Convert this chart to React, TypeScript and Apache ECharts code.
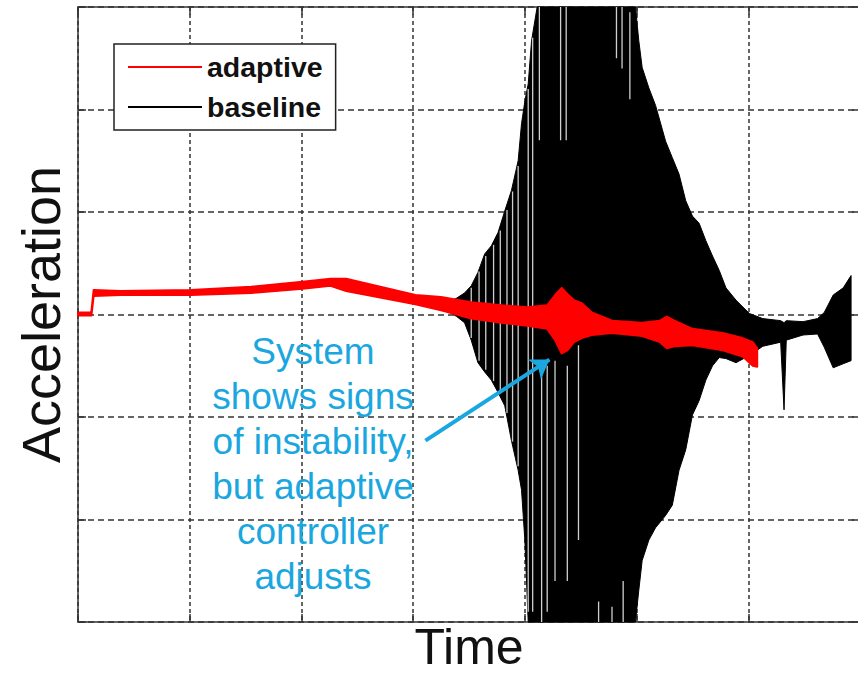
import React, { useEffect, useRef } from "react";
import * as echarts from "echarts";

// Axis ticks (no labels shown in the reference)
const xTicks = [0, 1, 2, 3, 4, 5, 6, 7];
const yTicks = [-3, -2, -1, 0, 1, 2, 3];

// adaptive controller trace: time, upper and lower extent of the (overlaid) red traces
const adaptiveT = [0, 0.11, 0.12, 0.14, 0.38, 1.01, 1.55, 2.01, 2.26, 2.4, 3.02, 3.25, 3.52, 3.79, 4.02, 4.2, 4.27, 4.33, 4.38, 4.44, 4.51, 4.6, 4.78, 5.05, 5.21, 5.27, 5.34, 5.5, 5.77, 5.95, 6.04, 6.08];
const adaptiveHi = [0.02, 0.02, 0.03, 0.24, 0.23, 0.24, 0.27, 0.32, 0.35, 0.35, 0.19, 0.17, 0.12, 0.09, 0.07, 0.09, 0.19, 0.26, 0.2, 0.14, 0.11, 0.02, -0.06, -0.08, -0.06, -0.02, -0.06, -0.14, -0.18, -0.23, -0.27, -0.33];
const adaptiveLo = [-0.01, -0.01, -0.01, 0.18, 0.19, 0.19, 0.21, 0.25, 0.28, 0.23, 0.1, 0.04, -0.04, -0.08, -0.11, -0.14, -0.25, -0.38, -0.35, -0.27, -0.23, -0.2, -0.18, -0.21, -0.27, -0.33, -0.31, -0.3, -0.35, -0.41, -0.5, -0.51];

// baseline trace: time, upper and lower envelope of the oscillation
const baselineT = [3.3, 3.39, 3.46, 3.52, 3.58, 3.64, 3.7, 3.76, 3.82, 3.88, 3.94, 3.97, 4.0, 4.03, 4.06, 4.11, 4.99, 5.02, 5.05, 5.11, 5.17, 5.26, 5.32, 5.38, 5.44, 5.5, 5.56, 5.62, 5.68, 5.74, 5.8, 5.89, 6.01, 6.13, 6.29, 6.32, 6.34, 6.49, 6.62, 6.68, 6.76, 6.85, 6.92];
const baselineHi = [0.11, 0.16, 0.21, 0.28, 0.41, 0.59, 0.67, 0.8, 1.01, 1.21, 1.5, 1.86, 2.08, 2.25, 2.67, 3.0, 3.0, 2.67, 2.41, 2.21, 2.04, 1.69, 1.53, 1.37, 1.11, 0.96, 0.89, 0.72, 0.57, 0.43, 0.26, 0.14, 0.01, -0.04, -0.06, -0.08, -0.06, -0.07, -0.04, 0.02, 0.19, 0.26, 0.38];
const baselineLo = [0.04, -0.02, -0.08, -0.25, -0.47, -0.56, -0.64, -0.76, -0.89, -1.23, -1.52, -1.71, -2.2, -3.0, -3.0, -3.0, -3.0, -2.69, -2.4, -2.2, -2.08, -1.96, -1.86, -1.52, -1.32, -0.98, -0.84, -0.64, -0.5, -0.42, -0.43, -0.47, -0.4, -0.31, -0.27, -0.93, -0.25, -0.2, -0.19, -0.32, -0.52, -0.48, -0.45];

// light gaps between the individual baseline oscillation strokes: time, top, bottom
const gapT = [3.52, 3.59, 3.65, 3.72, 3.78, 3.84, 3.89, 3.94, 4.03, 4.07, 4.13, 4.32, 4.37, 4.82, 4.87, 4.94, 4.15, 4.2, 4.27, 4.38, 4.48, 4.66, 4.78, 4.88];
const gapHi = [0.26, 0.42, 0.57, 0.68, 0.82, 1.02, 1.2, 1.45, 2.2, 2.7, 3.0, 3.0, 3.0, 3.0, 3.0, 2.95, -0.45, -0.5, -0.45, -0.5, -0.3, -2.8, -2.85, -2.6];
const gapLo = [-0.23, -0.45, -0.54, -0.65, -0.77, -0.96, -1.24, -1.48, -2.9, -2.9, 1.7, 1.7, 1.7, 2.5, 2.4, 2.1, -3.0, -2.9, -2.6, -2.6, -2.2, -3.0, -3.0, -3.0];

// annotation
const noteLines = ["System", "shows signs", "of instability,", "but adaptive", "controller", "adjusts"];
const arrowFrom = [3.11, -1.23];
const arrowTo = [4.22, -0.44];

const FONT = "'Liberation Sans', Arial, Helvetica, sans-serif";
const AXIS = "#333";
const NOTE = "#1aa7e0";

export default function App() {
  const ref = useRef<HTMLDivElement>(null);

  useEffect(() => {
    const chart = echarts.init(ref.current!, undefined, { renderer: "svg" });

    const bandRenderer = (ts: number[], hi: number[], lo: number[], color: string, lw: number) =>
      (params: any, api: any) => {
        if (params.dataIndex !== 0) return null;
        const top = ts.map((t, i) => api.coord([t, hi[i]]));
        const bot = ts.map((t, i) => api.coord([t, lo[i]])).reverse();
        return {
          type: "polygon",
          shape: { points: top.concat(bot) },
          style: { fill: color, stroke: color, lineWidth: lw, lineJoin: "round" },
          silent: true,
        };
      };

    const gapRenderer = (params: any, api: any) => {
      const t = api.value(0);
      const p1 = api.coord([t, api.value(1)]);
      const p2 = api.coord([t, api.value(2)]);
      return {
        type: "line",
        shape: { x1: p1[0], y1: p1[1], x2: p2[0], y2: p2[1] },
        style: { stroke: "#cfcfcf", lineWidth: 1.3 },
        silent: true,
      };
    };

    const axisCommon = {
      type: "value" as const,
      axisLine: { show: true, onZero: false, lineStyle: { color: AXIS, width: 1.5 } },
      axisTick: { show: true, inside: true, length: 8, lineStyle: { color: AXIS, width: 1.5 } },
      axisLabel: { show: false },
    };

    chart.setOption({
      animation: false,
      grid: { left: 78, top: 7, width: 782, bottom: 56, containLabel: false, outerBoundsMode: "none" },
      xAxis: [
        {
          ...axisCommon,
          min: xTicks[0],
          max: xTicks[xTicks.length - 1],
          interval: 1,
          position: "bottom",
          name: "Time",
          nameLocation: "middle",
          nameGap: 5,
          nameTextStyle: { fontSize: 50, lineHeight: 40, color: "#111", fontFamily: FONT },
          splitLine: { show: true, lineStyle: { color: AXIS, width: 1.5, type: [4, 3] } },
        },
        {
          ...axisCommon,
          min: xTicks[0],
          max: xTicks[xTicks.length - 1],
          interval: 1,
          position: "top",
          splitLine: { show: false },
        },
      ],
      yAxis: [
        {
          ...axisCommon,
          min: yTicks[0],
          max: yTicks[yTicks.length - 1],
          interval: 1,
          position: "left",
          name: "Acceleration",
          nameLocation: "middle",
          nameGap: 10,
          nameTextStyle: { fontSize: 54, color: "#111", fontFamily: FONT },
          splitLine: { show: true, lineStyle: { color: AXIS, width: 1.5, type: [6, 4] } },
        },
        {
          ...axisCommon,
          min: yTicks[0],
          max: yTicks[yTicks.length - 1],
          interval: 1,
          position: "right",
          splitLine: { show: false },
        },
      ],
      legend: {
        data: [
          { name: "adaptive", icon: "rect" },
          { name: "baseline", icon: "rect" },
        ],
        orient: "vertical",
        left: 114,
        top: 44,
        itemWidth: 74,
        itemHeight: 2,
        itemGap: 10,
        padding: [8, 13, 8, 14],
        borderColor: "#222",
        borderWidth: 1.5,
        borderRadius: 0,
        backgroundColor: "#fff",
        selectedMode: false,
        textStyle: { fontSize: 28.5, fontWeight: "bold", color: "#111", fontFamily: FONT, lineHeight: 30 },
      },
      series: [
        {
          name: "baseline",
          type: "custom",
          itemStyle: { color: "#000" },
          renderItem: bandRenderer(baselineT, baselineHi, baselineLo, "#000", 1),
          data: [[baselineT[0], baselineHi[0]]],
          z: 2,
        },
        {
          name: "gaps",
          type: "custom",
          renderItem: gapRenderer,
          encode: { x: 0, y: [1, 2] },
          data: gapT.map((t, i) => [t, gapHi[i], gapLo[i]]),
          z: 2.5,
        },
        {
          name: "adaptive",
          type: "custom",
          itemStyle: { color: "#ff0000" },
          renderItem: bandRenderer(adaptiveT, adaptiveHi, adaptiveLo, "#ff0000", 2),
          data: [[adaptiveT[0], adaptiveHi[0]]],
          z: 3,
        },
        {
          name: "note",
          type: "line",
          data: [],
          z: 4,
          markLine: {
            silent: true,
            symbol: ["none", "arrow"],
            symbolSize: 18,
            label: { show: false },
            lineStyle: { color: NOTE, width: 4, type: "solid" },
            emphasis: { disabled: true },
            data: [[{ coord: arrowFrom }, { coord: arrowTo }]],
          },
        },
      ],
      graphic: [
        {
          type: "text",
          x: 313,
          y: 329,
          z: 10,
          style: {
            text: noteLines.join("\n"),
            align: "center",
            verticalAlign: "top",
            textAlign: "center",
            textVerticalAlign: "top",
            fontSize: 37,
            lineHeight: 45,
            fontFamily: FONT,
            fill: NOTE,
          },
        },
      ],
    });

    return () => chart.dispose();
  }, []);

  return (
    <div
      ref={ref}
      style={{ position: "fixed", left: 0, top: 0, width: 858, height: 678, background: "#fff" }}
    />
  );
}
